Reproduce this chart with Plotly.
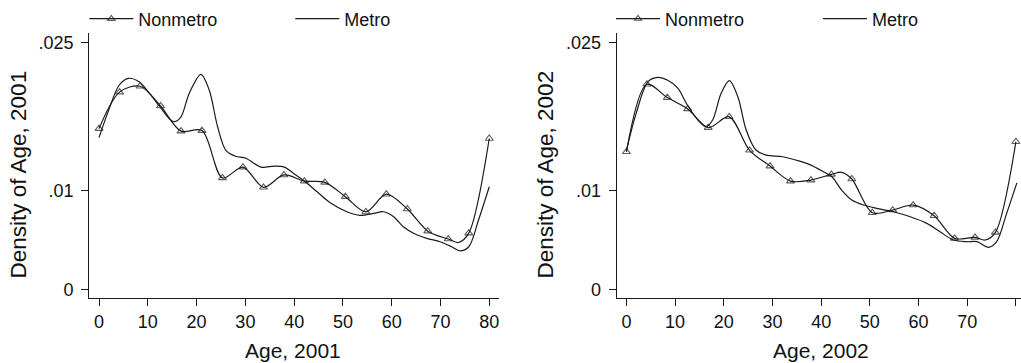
import plotly.graph_objects as go

# ---------------- data ----------------
# Nonmetro (markers) - 2001
nm01_age = [0, 4.2, 8.4, 12.6, 16.8, 21.1, 25.3, 29.5, 33.7, 37.9,
            42.1, 46.3, 50.5, 54.7, 58.9, 63.2, 67.4, 71.6, 75.8, 80]
nm01_den = [16.3, 20.0, 20.6, 18.6, 16.05, 16.1, 11.3, 12.4, 10.35, 11.6,
            10.98, 10.85, 9.4, 7.85, 9.65, 8.15, 5.9, 5.1, 5.7, 15.3]
nm01_extra_age = [73.7]
nm01_extra_den = [4.75]

# Metro (line) - 2001
m01_age = [0, 2.0, 4.1, 6.0, 8.2, 10.3, 12.5, 14.4, 15.4, 16.8, 18.5, 20.9,
           22.6, 24.3, 26.0, 28.0, 30.1, 33.2, 35.9, 38.0, 39.9, 42.1, 44.7,
           47.4, 50.8, 53.5, 56.3, 58.3, 60.4, 62.4, 64.5, 67.2, 69.9, 72.3,
           74.0, 75.8, 77.8, 80]
m01_den = [15.4, 18.2, 20.7, 21.4, 21.05, 19.9, 18.5, 17.3, 17.0, 17.5, 19.9,
           21.8, 20.2, 16.5, 14.1, 13.5, 13.3, 12.4, 12.5, 12.4, 11.76, 10.98,
           9.9, 8.78, 7.87, 7.5, 7.7, 7.87, 7.36, 6.35, 5.68, 5.17, 4.83, 4.32,
           3.9, 4.32, 7.03, 10.4]

# Nonmetro (markers) - 2002
nm02_age = [0, 4.2, 8.4, 12.6, 16.8, 21.1, 25.3, 29.5, 33.7, 37.9,
            42.1, 46.3, 50.5, 54.7, 58.9, 63.2, 67.4, 71.6, 75.8, 80]
nm02_den = [13.95, 20.8, 19.45, 18.3, 16.4, 17.5, 14.1, 12.5, 10.98, 11.08,
            11.66, 11.19, 7.77, 8.04, 8.55, 7.47, 5.17, 5.27, 5.78, 14.97]
nm02_extra_age = [44.2, 73.7]
nm02_extra_den = [11.87, 5.0]

# Metro (line) - 2002
m02_age = [0, 2.0, 4.4, 6.45, 8.5, 10.55, 12.5, 14.7, 16.4, 17.7, 19.45, 21.15,
           22.9, 24.6, 26.6, 28.7, 32.1, 35.6, 37.9, 40.45, 42.2, 44.2, 46.3,
           48.7, 51.4, 54.8, 58.3, 61.7, 64.4, 67.2, 69.9, 72.0, 74.4, 76.05,
           78.1, 80.2]
m02_den = [14.1, 17.85, 21.05, 21.5, 21.2, 20.4, 18.7, 17.17, 16.5, 17.17,
           19.88, 21.16, 19.5, 16.16, 14.13, 13.62, 13.45, 13.0, 12.6, 11.93,
           11.42, 10.07, 9.06, 8.55, 8.21, 7.87, 7.36, 6.69, 5.84, 5.0, 4.83,
           4.83, 4.26, 4.83, 7.7, 10.8]

density_scale = 0.001  # values above are read in units of 0.001

y_tickvals = [0, 0.01, 0.025]
y_ticktext = ["0", ".01", ".025"]
x_tickvals = [0, 10, 20, 30, 40, 50, 60, 70, 80]
x_ticktext = ["0", "10", "20", "30", "40", "50", "60", "70", "80"]

# ---------------- figure ----------------
W, H = 1021, 363
FONT = "Liberation Sans, Arial, Helvetica, sans-serif"
INK = "#1a1a1a"
MS = 7


def nonmetro_trace(ages, dens, ex_age, ex_den, xa, ya, leg):
    pts = [(a, d, MS) for a, d in zip(ages, dens)] + \
          [(a, d, 0) for a, d in zip(ex_age, ex_den)]
    pts.sort(key=lambda p: p[0])
    return go.Scatter(
        x=[p[0] for p in pts], y=[p[1] * density_scale for p in pts],
        mode="lines+markers", name="Nonmetro",
        line=dict(color=INK, width=1.2, shape="spline", smoothing=0.9),
        marker=dict(symbol="triangle-up-open", size=[p[2] for p in pts],
                    color=INK, line=dict(width=1.1, color=INK)),
        xaxis=xa, yaxis=ya, legend=leg, hoverinfo="skip")


def metro_trace(ages, dens, xa, ya, leg):
    return go.Scatter(
        x=ages, y=[d * density_scale for d in dens],
        mode="lines", name="Metro",
        line=dict(color=INK, width=1.2, shape="spline", smoothing=0.9),
        xaxis=xa, yaxis=ya, legend=leg, hoverinfo="skip")


fig = go.Figure()
fig.add_trace(nonmetro_trace(nm01_age, nm01_den, nm01_extra_age, nm01_extra_den, "x", "y", "legend2"))
fig.add_trace(metro_trace(m01_age, m01_den, "x", "y", "legend3"))
fig.add_trace(nonmetro_trace(nm02_age, nm02_den, nm02_extra_age, nm02_extra_den, "x2", "y2", "legend4"))
fig.add_trace(metro_trace(m02_age, m02_den, "x2", "y2", "legend5"))

ydom = [1 - 298.3 / H, 1 - 33 / H]
yrange = [-0.00091, 0.0260]

axis_common = dict(showline=True, linecolor=INK, linewidth=1.2, showgrid=False,
                   zeroline=False, ticks="outside", ticklen=7, tickwidth=1.2,
                   tickcolor=INK, tickfont=dict(family=FONT, size=18, color="#111"))

fig.update_layout(
    width=W, height=H, margin=dict(l=0, r=0, t=0, b=0),
    paper_bgcolor="white", plot_bgcolor="white",
    font=dict(family=FONT, size=18, color="#111"),
    xaxis=dict(domain=[89.3 / W, 499 / W], range=[-2, 82], anchor="y",
               tickvals=x_tickvals, ticktext=x_ticktext, ticklabelstandoff=0,
               **axis_common),
    yaxis=dict(domain=ydom, range=yrange, anchor="x", ticklabelstandoff=4,
               tickvals=y_tickvals, ticktext=y_ticktext, **axis_common),
    xaxis2=dict(domain=[616.7 / W, 1.0], range=[-2, (W - 626.3) / 4.87], anchor="y2",
                tickvals=x_tickvals, ticktext=x_ticktext, ticklabelstandoff=0,
                **axis_common),
    yaxis2=dict(domain=ydom, range=yrange, anchor="x2", ticklabelstandoff=4,
                tickvals=y_tickvals, ticktext=y_ticktext, **axis_common),
)

leg_common = dict(orientation="h", yanchor="middle", y=1 - 19 / H, xanchor="left",
                  bgcolor="rgba(0,0,0,0)", borderwidth=0,
                  font=dict(family=FONT, size=18, color="#111"),
                  itemwidth=44)
fig.update_layout(
    legend=dict(visible=False),
    legend2=dict(x=(89.3 - 5) / W, **leg_common),
    legend3=dict(x=(293.3 - 3) / W, **leg_common),
    legend4=dict(x=(616 - 5) / W, **leg_common),
    legend5=dict(x=(821 - 3) / W, **leg_common),
)

annotations = [
    dict(text="Density of Age, 2001", x=18 / W, y=1 - 174.5 / H, textangle=-90, size=22.5),
    dict(text="Age, 2001", x=293.4 / W, y=1 - 350 / H, textangle=0, size=21),
    dict(text="Density of Age, 2002", x=545 / W, y=1 - 174.5 / H, textangle=-90, size=22.5),
    dict(text="Age, 2002", x=821.3 / W, y=1 - 350 / H, textangle=0, size=21),
]
for a in annotations:
    fig.add_annotation(xref="paper", yref="paper", xanchor="center", yanchor="middle",
                       showarrow=False, text=a["text"], x=a["x"], y=a["y"],
                       textangle=a["textangle"],
                       font=dict(family=FONT, size=a["size"], color="#111"))

post = ("document.documentElement.style.overflow='hidden';"
        "document.body.style.margin='0';document.body.style.overflow='hidden';")

fig.write_html("out.html", config={"displayModeBar": False}, post_script=post)
